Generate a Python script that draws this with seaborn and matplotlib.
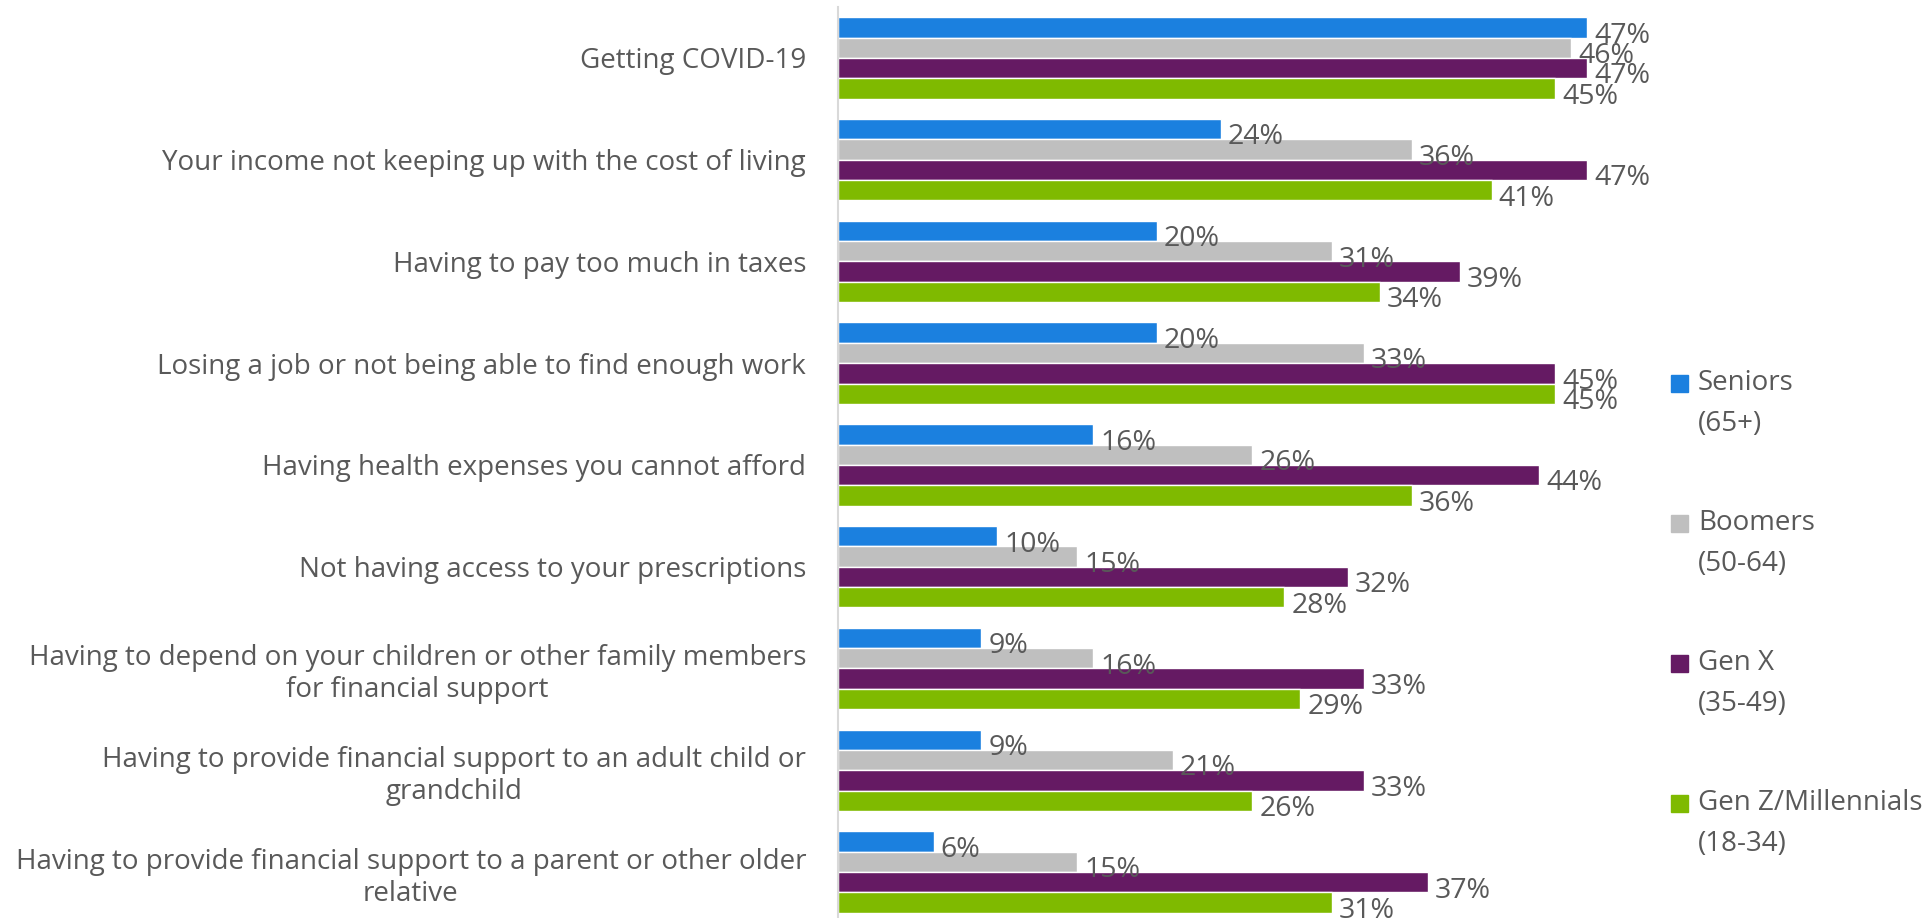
import pandas as pd
import numpy as np
import matplotlib
matplotlib.use("Agg")
import matplotlib.pyplot as plt
import seaborn as sns

# categories (top to bottom)
categories = [
    "Getting COVID-19",
    "Your income not keeping up with the cost of living",
    "Having to pay too much in taxes",
    "Losing a job or not being able to find enough work",
    "Having health expenses you cannot afford",
    "Not having access to your prescriptions",
    "Having to depend on your children or other family members\nfor financial support",
    "Having to provide financial support to an adult child or\ngrandchild",
    "Having to provide financial support to a parent or other older\nrelative",
]
groups = ["Seniors\n(65+)", "Boomers\n(50-64)", "Gen X\n(35-49)", "Gen Z/Millennials\n(18-34)"]

seniors = [47, 24, 20, 20, 16, 10, 9, 9, 6]
boomers = [46, 36, 31, 33, 26, 15, 16, 21, 15]
gen_x = [47, 47, 39, 45, 44, 32, 33, 33, 37]
gen_z = [45, 41, 34, 45, 36, 28, 29, 26, 31]

colors = ["#1B80DF", "#BFBFBF", "#651A63", "#7FBA00"]
text_color = "#595959"

rows = []
for g, vals in zip(groups, [seniors, boomers, gen_x, gen_z]):
    for c, v in zip(categories, vals):
        rows.append({"category": c, "group": g, "value": v})
df = pd.DataFrame(rows)

sns.set_style("white")
plt.rcParams["font.family"] = ["Open Sans", "DejaVu Sans"]

fig = plt.figure(figsize=(19.29, 9.18), dpi=100)
ax = fig.add_axes([838 / 1929, 0, 797 / 1929, 1 - 7 / 918])

sns.barplot(data=df, x="value", y="category", hue="group", order=categories,
            hue_order=groups, palette=colors, width=0.8, dodge=True,
            orient="h", ax=ax, legend=False, saturation=1)

# value labels, nudged right and down a bit like the original
for cont in ax.containers:
    for p in cont:
        w = p.get_width()
        yc = p.get_y() + p.get_height() / 2
        ax.annotate(f"{w:.0f}%", (w, yc), xytext=(5, -6), textcoords="offset points",
                    ha="left", va="center", fontsize=20.5, color=text_color)

ax.set_xlim(0, 50)
ax.set_ylim(8.452, -0.5)
ax.set_xlabel("")
ax.set_ylabel("")
ax.set_xticks([])
ax.tick_params(axis="y", length=0, pad=23, labelsize=20, labelcolor=text_color)
for lab in ax.get_yticklabels():
    lab.set_multialignment("center")

for s in ["top", "right", "bottom"]:
    ax.spines[s].set_visible(False)
ax.spines["left"].set_color("#D9D9D9")
ax.spines["left"].set_linewidth(1.5)

# legend: square beside first line of each two-line label
for i, (g, col) in enumerate(zip(groups, colors)):
    ytop = 383 + i * 140
    fig.patches.append(plt.Rectangle((1671 / 1929, 1 - (ytop + 9) / 918), 17 / 1929, 17 / 918,
                                     transform=fig.transFigure, color=col, figure=fig))
    fig.text(1698 / 1929, 1 - ytop / 918, g.split("\n")[0], ha="left", va="center",
             fontsize=20, color=text_color)
    fig.text(1698 / 1929, 1 - (ytop + 41) / 918, g.split("\n")[1], ha="left", va="center",
             fontsize=20, color=text_color)

fig.savefig("out.png", dpi=100)
